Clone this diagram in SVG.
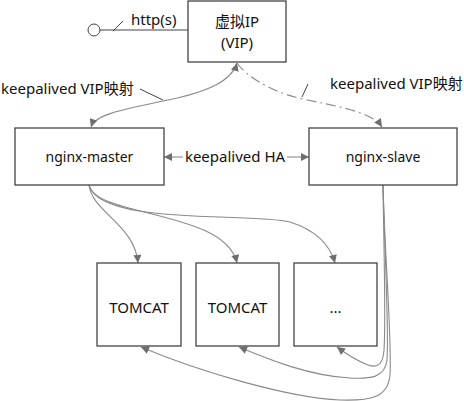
<svg xmlns="http://www.w3.org/2000/svg" width="464" height="401" viewBox="0 0 464 401">
<style>
.box{fill:#fff;stroke:#444;stroke-width:1.3}
.t{font-family:"Noto Sans","Noto Sans CJK SC",sans-serif;font-size:15px;fill:#111;text-anchor:middle}
.tl{font-family:"Noto Sans","Noto Sans CJK SC",sans-serif;font-size:15px;fill:#111}
.n{font-size:14px}
.c{fill:none;stroke:#8a8a8a;stroke-width:1.1}
.k{fill:none;stroke:#444;stroke-width:1}
</style>
<defs>
<marker id="ah" viewBox="0 0 10 10" refX="10" refY="5" markerWidth="9" markerHeight="8" markerUnits="userSpaceOnUse" orient="auto-start-reverse">
<path d="M0,0 L10,5 L0,10 Z" fill="#6e6e6e"/>
</marker>
</defs>
<rect width="464" height="401" fill="#fff"/>
<g id="connectors">
<circle cx="94" cy="30" r="6" fill="#fff" stroke="#444" stroke-width="1"/>
<line class="k" x1="100" y1="30" x2="188" y2="30"/>
<line class="k" x1="113" y1="31" x2="123" y2="21"/>
<text class="tl" x="131" y="25">http(s)</text>
<path class="c" d="M91,127 C95,115 120,110 163,101 C210,92 232,80 237,63" marker-start="url(#ah)" marker-end="url(#ah)"/>
<line class="k" x1="140" y1="89" x2="163" y2="100"/>
<text class="tl" x="1" y="94">keepalived VIP映射</text>
<path class="c" d="M237,63 C245,75 270,92 303,99 C340,107 372,112 382,127" stroke-dasharray="10,4,2,4" marker-end="url(#ah)"/>
<line class="k" x1="308" y1="84" x2="302" y2="97"/>
<text class="tl" x="330" y="89">keepalived VIP映射</text>
<line class="c" x1="183" y1="157" x2="164" y2="157" marker-end="url(#ah)"/>
<line class="c" x1="287" y1="157" x2="309" y2="157" marker-end="url(#ah)"/>
<text class="t" x="235" y="162">keepalived HA</text>
<path class="c" d="M89,185 C92,212 135,225 138,263" marker-end="url(#ah)"/>
<path class="c" d="M89,185 C95,217 225,210 237,263" marker-end="url(#ah)"/>
<path class="c" d="M89,185 C100,226 250,212 290,222 C315,230 330,245 335,263" marker-end="url(#ah)"/>
<path class="c" d="M383,185 C385,260 392,340 390,375 C388,398 370,401 340,400 C290,398 200,372 141,347" marker-end="url(#ah)"/>
<path class="c" d="M383,185 C385,260 389,330 387,360 C385,378 370,379 350,378 C310,376 270,360 239,347" marker-end="url(#ah)"/>
<path class="c" d="M383,185 C384,260 386,320 384,350 C383,366 376,368 368,365 C355,360 345,353 337,347" marker-end="url(#ah)"/>
</g>
<g id="vip">
<rect class="box" x="188" y="1" width="98" height="61"/>
<text class="t" x="237" y="27">虚拟IP</text>
<text class="t" x="237" y="48">(VIP)</text>
</g>
<g id="nginx-master">
<rect class="box" x="15" y="128" width="149" height="57"/>
<text class="t n" x="89.5" y="162">nginx-master</text>
</g>
<g id="nginx-slave">
<rect class="box" x="309" y="128" width="148" height="57"/>
<text class="t n" x="383" y="162">nginx-slave</text>
</g>
<g id="tomcat1">
<rect class="box" x="97" y="263" width="84" height="83"/>
<text class="t" x="139" y="313">TOMCAT</text>
</g>
<g id="tomcat2">
<rect class="box" x="196" y="263" width="83" height="83"/>
<text class="t" x="237.5" y="313">TOMCAT</text>
</g>
<g id="tomcat3">
<rect class="box" x="294" y="263" width="83" height="83"/>
<text class="t" x="335.5" y="313">...</text>
</g>
</svg>
